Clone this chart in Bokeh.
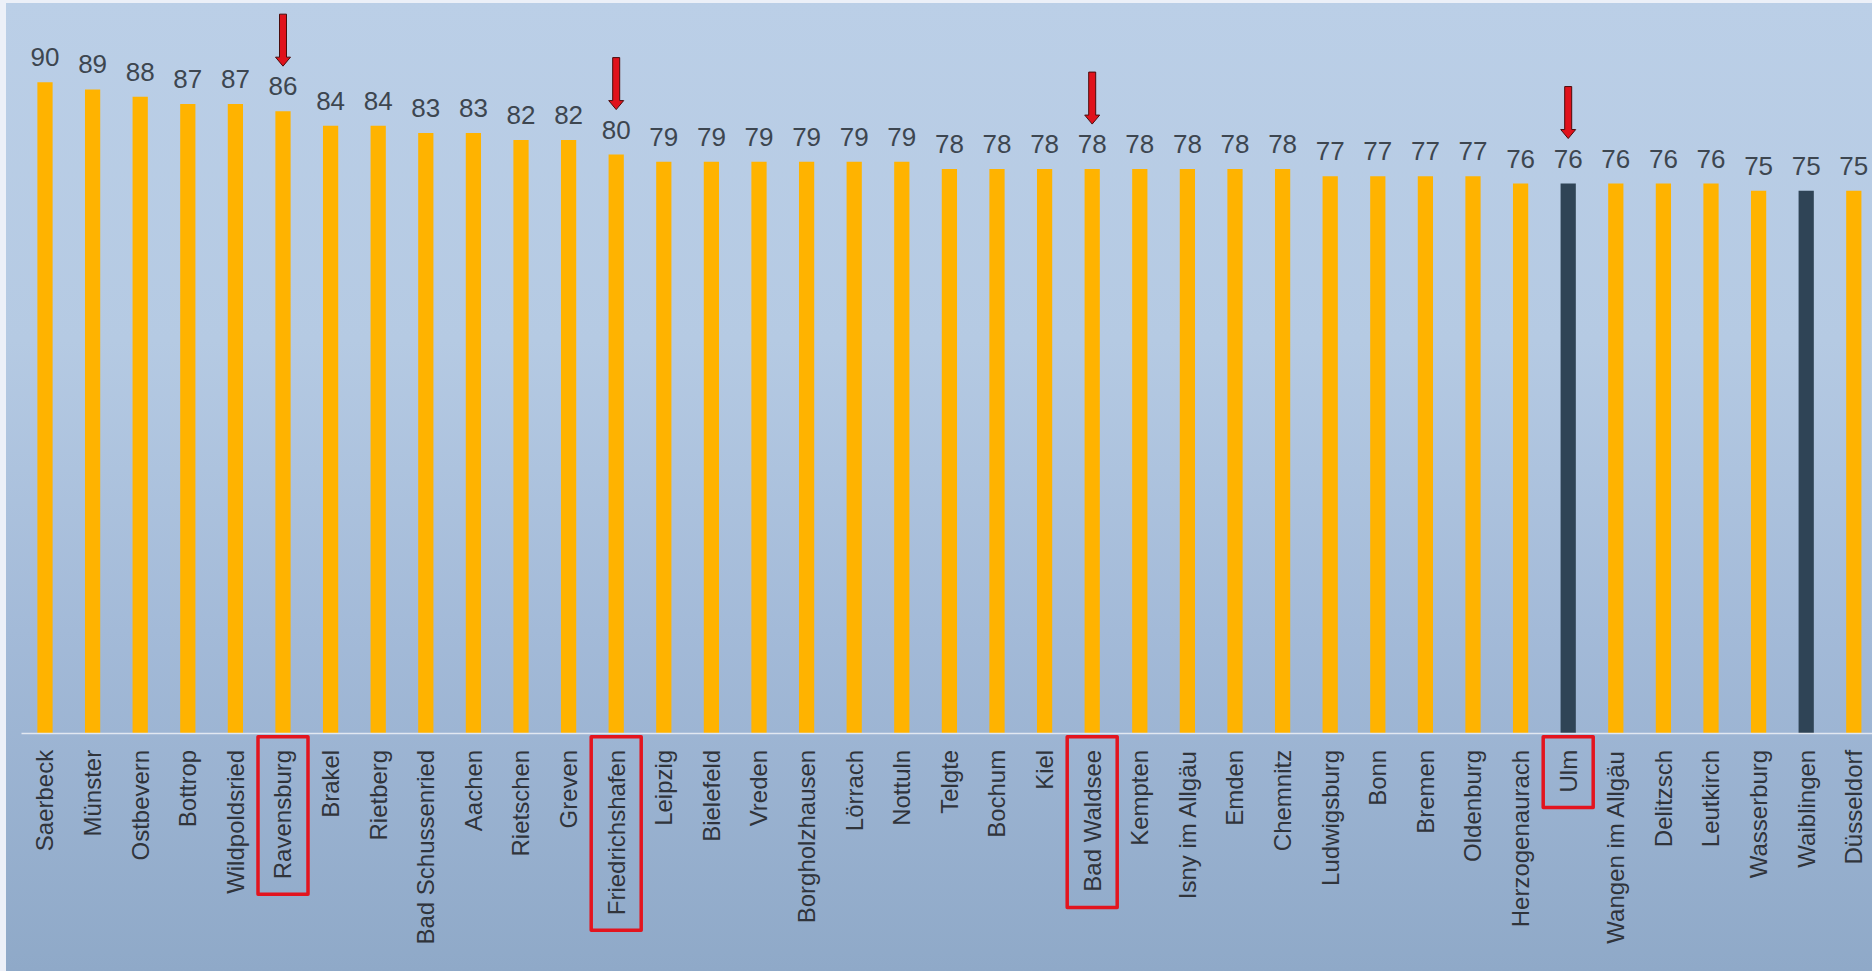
import math
from bokeh.plotting import figure
from bokeh.models import Range1d, FixedTicker, ColumnDataSource
from bokeh.core.properties import value
from bokeh.embed import file_html
from bokeh.resources import INLINE

# ---------------- data ----------------
cities = ["Saerbeck", "Münster", "Ostbevern", "Bottrop", "Wildpoldsried", "Ravensburg",
          "Brakel", "Rietberg", "Bad Schussenried", "Aachen", "Rietschen", "Greven",
          "Friedrichshafen", "Leipzig", "Bielefeld", "Vreden", "Borgholzhausen", "Lörrach",
          "Nottuln", "Telgte", "Bochum", "Kiel", "Bad Waldsee", "Kempten", "Isny im Allgäu",
          "Emden", "Chemnitz", "Ludwigsburg", "Bonn", "Bremen", "Oldenburg", "Herzogenaurach",
          "Ulm", "Wangen im Allgäu", "Delitzsch", "Leutkirch", "Wasserburg", "Waiblingen",
          "Düsseldorf"]
scores = [90, 89, 88, 87, 87, 86, 84, 84, 83, 83, 82, 82, 80, 79, 79, 79, 79, 79, 79,
          78, 78, 78, 78, 78, 78, 78, 78, 77, 77, 77, 77, 76, 76, 76, 76, 76, 75, 75, 75]
dark_cities = ["Ulm", "Waiblingen"]
highlighted = ["Ravensburg", "Friedrichshafen", "Bad Waldsee", "Ulm"]

# ---------------- style constants ----------------
W, H = 1872, 971
CAT_PX = 47.6          # pixels per category
FIRST_PX = 44.5        # centre of first bar from left edge
BASE_PX = 733.3        # y pixel of the zero line
UNIT_PX = 7.24         # pixels per score unit
ORANGE = "#ffb300"
DARK = "#2f4456"
RED = "#e3141e"
FONT = "Liberation Sans"

x_start = -FIRST_PX / CAT_PX
x_end = x_start + W / CAT_PX
y_end = BASE_PX / UNIT_PX
y_start = -(H - BASE_PX) / UNIT_PX
px_x = 1.0 / CAT_PX
px_y = 1.0 / UNIT_PX

# Arial / Liberation Sans advance widths (em/1000) for label length estimates
ARIAL_W = {"R": 722, "a": 556, "v": 500, "e": 556, "n": 556, "s": 500, "b": 556, "u": 556,
           "r": 333, "g": 556, "F": 611, "i": 222, "d": 556, "c": 500, "h": 556, "f": 278,
           "B": 667, " ": 278, "W": 944, "l": 222, "U": 722, "m": 833}


def text_len(t, size=24):
    return sum(ARIAL_W.get(ch, 556) for ch in t) / 1000.0 * size


idx = list(range(len(cities)))
src = ColumnDataSource(dict(
    x=idx,
    score=scores,
    label=[str(s) for s in scores],
    color=[DARK if c in dark_cities else ORANGE for c in cities],
))

p = figure(width=W, height=H, x_range=Range1d(x_start, x_end), y_range=Range1d(y_start, y_end),
           output_backend="svg", toolbar_location=None, y_axis_location=None,
           min_border=0, outline_line_color=None,
           background_fill_color=None, border_fill_color=None)
p.styles = {
    "background": "linear-gradient(#ecf0f8, #ecf0f8) left top / 6px 100% no-repeat, "
                  "linear-gradient(#ecf0f8, #ecf0f8) left top / 100% 3px no-repeat, "
                  "linear-gradient(to bottom, #bbcfe7 0%, #b5cae3 35%, #a3bad8 65%, #8fa9c8 100%)"
}
p.xgrid.visible = False
p.ygrid.visible = False

p.vbar(x="x", top="score", bottom=0, width=0.32, fill_color="color", line_color=None, source=src)

p.text(x="x", y="score", text="label", source=src,
       text_font=value(FONT), text_font_size="26px", text_color="#3d4650",
       text_align="center", text_baseline="alphabetic", y_offset=-25)

# axis with city labels, placed at zero line
ax = p.xaxis[0]
ax.fixed_location = 0
ax.ticker = FixedTicker(ticks=idx)
ax.major_label_overrides = {i: c for i, c in enumerate(cities)}
ax.major_label_orientation = math.pi / 2
ax.major_label_standoff = 16
ax.major_tick_line_color = None
ax.minor_tick_line_color = None
ax.major_tick_out = 0
ax.major_label_text_font = FONT
ax.major_label_text_font_size = "24px"
ax.major_label_text_color = "#30343b"
ax.axis_line_color = "#e2e8f1"
ax.axis_line_width = 1.5
ax.bounds = (-0.5, len(cities))

# red arrows above highlighted bars
axs, ays = [], []
for c in highlighted:
    i = cities.index(c)
    v = scores[i]
    tip = v + 45 * px_y
    hb = tip + 9 * px_y
    top = tip + 52 * px_y
    hw = 7.5 * px_x
    sw = 3.5 * px_x
    axs.append([i - sw, i + sw, i + sw, i + hw, i, i - hw, i - sw])
    ays.append([top, top, hb, hb, tip, hb, hb])
p.patches(axs, ays, fill_color="#e0121c", line_color="#4a0c0c", line_width=1)

# red boxes around highlighted labels
bl, br, bt, bb = [], [], [], []
for c in highlighted:
    i = cities.index(c)
    bl.append(i - 25 * px_x)
    br.append(i + 25 * px_x)
    bt.append(-3 * px_y)
    bb.append(-(16 + text_len(c) + 15) * px_y)
p.quad(left=bl, right=br, top=bt, bottom=bb, fill_color=None,
       line_color=RED, line_width=3.5, line_join="round")

open("out.html", "w").write(file_html(p, INLINE))
